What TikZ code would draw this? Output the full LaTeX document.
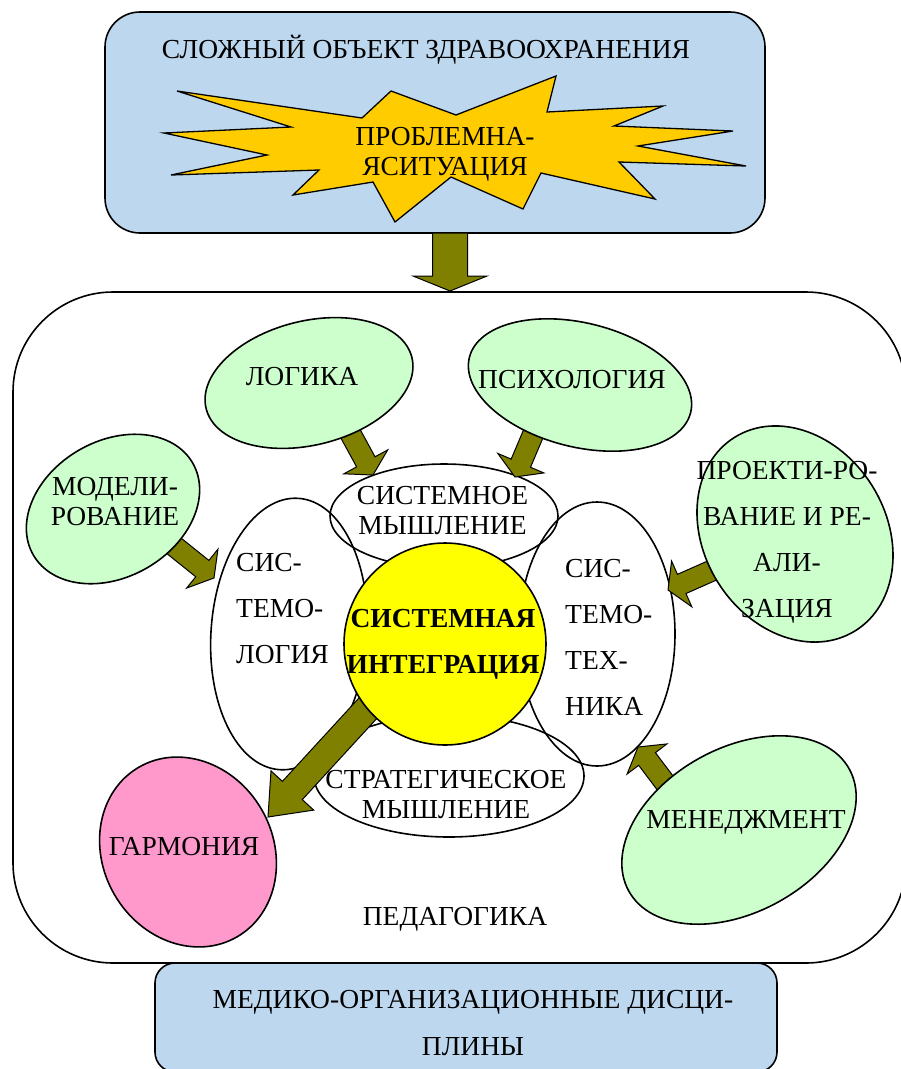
\documentclass[tikz,border=0pt]{standalone}
\usepackage{fontspec}
\setmainfont{Liberation Serif}
\usetikzlibrary{shapes.geometric,calc}
\definecolor{boxblue}{HTML}{BDD7EE}
\definecolor{stargold}{HTML}{FFCC00}
\definecolor{lightgreen}{HTML}{CCFFCC}
\definecolor{pinkc}{HTML}{FF99CC}
\definecolor{yellowc}{HTML}{FFFF00}
\definecolor{olivec}{HTML}{808000}
% block arrow: #1 start, #2 tip, #3 half shaft width, #4 half head width, #5 head length
\newcommand\blockarrow[5]{%
  \coordinate (bah) at ($(#2)!#5pt!(#1)$);
  \draw[barrow] ($(#1)!#3pt!90:(#2)$) -- ($(bah)!#3pt!-90:(#1)$) -- ($(bah)!#4pt!-90:(#1)$) -- (#2)
    -- ($(bah)!#4pt!90:(#1)$) -- ($(bah)!#3pt!90:(#1)$) -- ($(#1)!#3pt!-90:(#2)$) -- cycle;}
\begin{document}
\begin{tikzpicture}[x=1pt,y=1pt,
  lbl/.style={inner sep=0pt, align=center, font=\fontsize{27.5}{30}\selectfont},
  lblw/.style={lbl, font=\fontsize{27.5}{46}\selectfont},
  shapeline/.style={draw=black, line width=1.6pt},
  ell/.style={ellipse, shapeline, inner sep=0pt},
  greenell/.style={ell, fill=lightgreen},
  barrow/.style={draw=black, line width=1pt, fill=olivec, line join=miter}]
\useasboundingbox (0,0) rectangle (901,-1069);
\clip (0,0) rectangle (901,-1069);

% frames
\node[shapeline, fill=white, rounded corners=100pt, minimum width=893pt, minimum height=671pt] (bigbox) at (459.5,-627.5) {};
\node[shapeline, fill=boxblue, rounded corners=35pt, minimum width=660pt, minimum height=221pt] (topbox) at (435,-122.5) {};

% starburst
\draw[shapeline, line width=1.3pt, fill=stargold, line join=miter]
 (177,-91) -- (362,-118) -- (391,-91) -- (456,-115) -- (556,-76) -- (547,-112) -- (663,-106)
 -- (614,-126) -- (733,-131) -- (638,-146) -- (746,-166) -- (619,-162) -- (655,-199)
 -- (541,-173) -- (523,-209) -- (451,-177) -- (395,-222) -- (373,-182) -- (293,-195)
 -- (319,-170) -- (171,-175) -- (267,-155) -- (164,-133) -- (291,-127) -- cycle;

\node[lbl, anchor=base] (tobj) at (426,-58) {СЛОЖНЫЙ ОБЪЕКТ ЗДРАВООХРАНЕНИЯ};
\node[lbl] (tprob) at (445,-154) {ПРОБЛЕМНА-\\ЯСИТУАЦИЯ};

% top arrow
\coordinate (topS) at (450,-233);
\coordinate (topE) at (450,-291);
\blockarrow{topS}{topE}{17.5}{37}{15}

% white ellipses
\node[ell, minimum width=228pt, minimum height=104pt] (thinkE) at (444,-516) {};
\node[ell, minimum width=156pt, minimum height=272pt, rotate=-4] (sysE) at (289,-634) {};
\node[ell, minimum width=156pt, minimum height=264pt] (techE) at (597,-634) {};
\node[ell, minimum width=270pt, minimum height=122pt] (stratE) at (449,-776) {};

% arrows
\coordinate (logS) at (343,-420);  \coordinate (logT) at (373,-475);
\coordinate (psyS) at (537,-425);  \coordinate (psyT) at (515,-477);
\coordinate (modS) at (168,-541);  \coordinate (modT) at (214,-578);
\coordinate (proS) at (720,-567);  \coordinate (proT) at (668,-590);
\coordinate (manS) at (675,-796);  \coordinate (manT) at (638,-747);
\coordinate (harS) at (380,-695);  \coordinate (harT) at (268,-817);
\blockarrow{logS}{logT}{10.5}{25}{15}
\blockarrow{psyS}{psyT}{10.5}{25}{15}
\blockarrow{modS}{modT}{10.5}{25}{15}
\blockarrow{proS}{proT}{10.5}{25}{15}
\blockarrow{manS}{manT}{10.5}{25}{15}
\blockarrow{harS}{harT}{13.5}{29}{36}

% coloured ellipses
\node[greenell, minimum width=212pt, minimum height=124pt, rotate=14] (logE) at (309,-383) {};
\node[greenell, minimum width=228pt, minimum height=124pt, rotate=-14] (psyE) at (580,-385) {};
\node[greenell, minimum width=184pt, minimum height=136pt, rotate=30] (modE) at (113,-509) {};
\node[greenell, minimum width=182pt, minimum height=228pt, rotate=32] (proE) at (795,-534) {};
\node[greenell, minimum width=252pt, minimum height=164pt, rotate=29] (manE) at (739,-830) {};
\node[ell, fill=pinkc, minimum width=170pt, minimum height=196pt, rotate=30] (harE) at (188,-852) {};
\node[circle, shapeline, fill=yellowc, minimum size=202pt, inner sep=0pt] (core) at (445,-644) {};

% labels
\node[lbl, anchor=base] (tlog) at (302,-385) {ЛОГИКА};
\node[lbl, anchor=base] (tpsy) at (572,-388) {ПСИХОЛОГИЯ};
\node[lbl] (tmod) at (115,-502) {МОДЕЛИ-\\РОВАНИЕ};
\node[lblw] (tpro) at (787,-542) {ПРОЕКТИ-РО-\\ВАНИЕ И РЕ-\\АЛИ-\\ЗАЦИЯ};
\node[lbl] (tthink) at (442.5,-511) {СИСТЕМНОЕ\\МЫШЛЕНИЕ};
\node[lblw, align=left, anchor=west] (tsys) at (236,-609) {СИС-\\ТЕМО-\\ЛОГИЯ};
\node[lblw, align=left, anchor=west] (ttech) at (565,-637) {СИС-\\ТЕМО-\\ТЕХ-\\НИКА};
\node[lblw, font=\fontsize{27.5}{46}\selectfont\bfseries] (tcore) at (443,-644) {СИСТЕМНАЯ\\ИНТЕГРАЦИЯ};
\node[lbl] (tstrat) at (446,-795) {СТРАТЕГИЧЕСКОЕ\\МЫШЛЕНИЕ};
\node[lbl, anchor=base] (tman) at (746,-828) {МЕНЕДЖМЕНТ};
\node[lbl, anchor=base] (thar) at (184,-855) {ГАРМОНИЯ};
\node[lbl, anchor=base] (tped) at (455,-925) {ПЕДАГОГИКА};

% bottom box
\node[shapeline, fill=boxblue, rounded corners=20pt, minimum width=622pt, minimum height=109pt] (botbox) at (466,-1017.5) {};
\node[lbl, font=\fontsize{27.5}{47}\selectfont] (tbot) at (473,-1023) {МЕДИКО-ОРГАНИЗАЦИОННЫЕ ДИСЦИ-\\ПЛИНЫ};
\end{tikzpicture}
\end{document}
